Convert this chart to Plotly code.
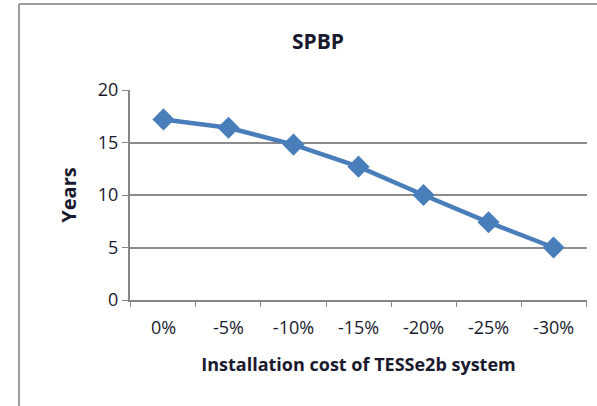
import plotly.graph_objects as go

categories = ["0%", "-5%", "-10%", "-15%", "-20%", "-25%", "-30%"]
years = [17.2, 16.4, 14.8, 12.7, 10.0, 7.4, 5.0]
y_ticks = [0, 5, 10, 15, 20]

font_family = "Open Sans, Liberation Sans, Arial, sans-serif"
text_color = "#1a1a2e"

fig = go.Figure()
fig.add_trace(go.Scatter(
    x=categories, y=years, mode="lines+markers",
    line=dict(color="#4a7ebb", width=4.5),
    marker=dict(symbol="diamond", size=17, color="#4a7ebb"),
    showlegend=False,
))

W, H = 597, 406
L, T = 130, 90
pw, ph = 457, 210
R = W - L - pw
B = H - T - ph

fig.update_layout(
    width=W, height=H,
    margin=dict(l=L, r=R, t=T, b=B, pad=0),
    paper_bgcolor="white", plot_bgcolor="white",
    font=dict(family=font_family, size=18, color=text_color),
    title=dict(text="<b>SPBP</b>", x=318 / W, xanchor="center",
               y=1 - 42 / H, yanchor="middle", font=dict(size=21)),
    xaxis=dict(
        tickson="boundaries", ticks="outside", ticklen=5, tickcolor="#868686",
        showline=True, linecolor="#868686", linewidth=2, showgrid=False,
        tickfont=dict(size=18), ticklabelstandoff=10,
        title=dict(text="<b>Installation cost of TESSe2b system</b>", standoff=21,
                   font=dict(size=18)),
    ),
    yaxis=dict(
        range=[0, 20], tickvals=y_ticks, ticks="outside", ticklen=6,
        tickcolor="#868686", showline=True, linecolor="#868686", linewidth=2,
        gridcolor="#8c8c8c", gridwidth=1.5, zeroline=False,
        tickfont=dict(size=18),
        title=dict(text="<b>Years</b>", standoff=16, font=dict(size=20)),
    ),
)

x_left = (19 - L) / pw
y_top = 1 + (T - 4) / ph
y_bottom = -(B + 5) / ph
x_right = 1 + (R + 5) / pw
fig.add_shape(type="line", xref="paper", yref="paper", x0=x_left, x1=x_left,
              y0=y_bottom, y1=y_top, line=dict(color="#7f7f7f", width=1.5))
fig.add_shape(type="line", xref="paper", yref="paper", x0=x_left, x1=x_right,
              y0=y_top, y1=y_top, line=dict(color="#7f7f7f", width=1.5))

fig.write_html("out.html", config={"displayModeBar": False},
               post_script="document.body.style.margin='0';document.body.style.overflow='hidden';")
